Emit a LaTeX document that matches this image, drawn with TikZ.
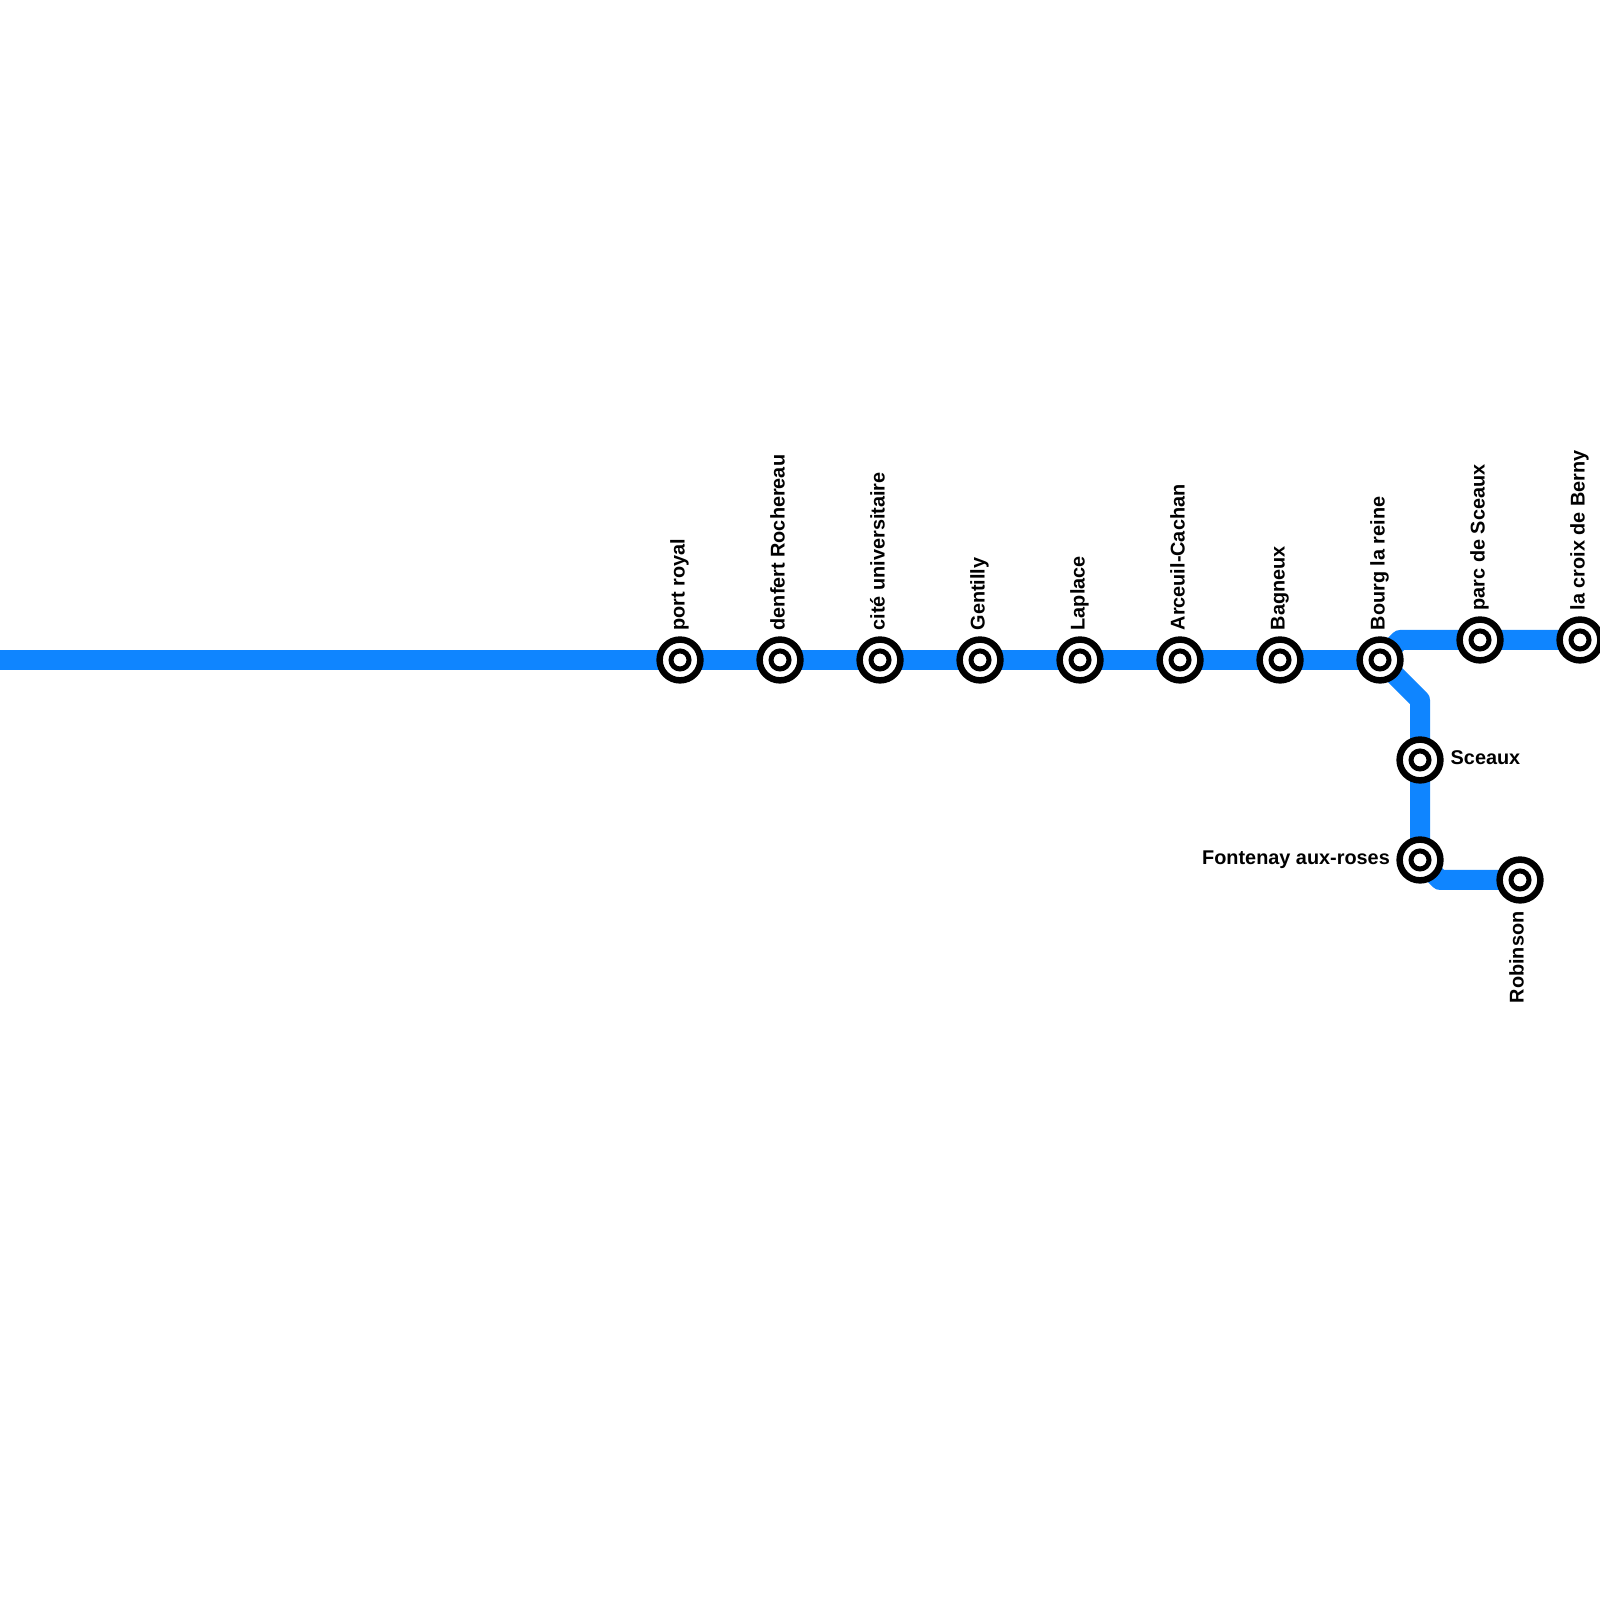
\documentclass[tikz,border=0pt]{standalone}
\usepackage{fontspec}
\setmainfont{Liberation Sans}
\usetikzlibrary{backgrounds}
\definecolor{lineblue}{RGB}{15,133,255}
\tikzset{
	station/.style={circle, draw=black, fill=white, line width=0.065cm, minimum size=0.408cm, inner sep=0pt,
		path picture={\draw[black, line width=0.05cm] (path picture bounding box.center) circle (0.09);}},
	stationname/.style={font=\bfseries\fontsize{5.65}{7}\selectfont, inner sep=0pt, text height=0.15cm, text depth=0.06cm},
	upname/.style={stationname, rotate=90, anchor=west},
	metroline/.style={lineblue, line width=0.2cm, line join=round}
}
\begin{document}
\begin{tikzpicture}[scale=1]
	\useasboundingbox (0, 0) rectangle (16, 16);

	\node[station] (portroyal) at (6.8, 9.4){};
	\node[station] (denfert) at (7.8, 9.4){};
	\node[station] (cite) at (8.8, 9.4){};
	\node[station] (gentilly) at (9.8, 9.4){};
	\node[station] (laplace) at (10.8, 9.4){};
	\node[station] (arceuil) at (11.8, 9.4){};
	\node[station] (bagneux) at (12.8, 9.4){};
	\node[station] (bourg) at (13.8, 9.4){};
	\node[station] (parc) at (14.8, 9.6){};
	\node[station] (croix) at (15.8, 9.6){};
	\node[station] (sceaux) at (14.2, 8.4){};
	\node[station] (fontenay) at (14.2, 7.4){};
	\node[station] (robinson) at (15.2, 7.2){};

	\coordinate (west) at (0, 9.4);
	\coordinate (northbend) at (14, 9.6);
	\coordinate (southbend) at (14.2, 9);
	\coordinate (lastbend) at (14.4, 7.2);

	\begin{scope}[on background layer]
		\draw[metroline] (west)--(bourg.center);
		\draw[metroline] (bourg.center)--(northbend)--(croix.center);
		\draw[metroline] (bourg.center)--(southbend)--(fontenay.center)--(lastbend)--(robinson.center);
	\end{scope}

	\node[upname] (portroyalname) at (6.8, 9.69){port royal};
	\node[upname] (denfertname) at (7.8, 9.69){denfert Rochereau};
	\node[upname] (citename) at (8.8, 9.69){cité universitaire};
	\node[upname] (gentillyname) at (9.8, 9.69){Gentilly};
	\node[upname] (laplacename) at (10.8, 9.69){Laplace};
	\node[upname] (arceuilname) at (11.8, 9.69){Arceuil-Cachan};
	\node[upname] (bagneuxname) at (12.8, 9.69){Bagneux};
	\node[upname] (bourgname) at (13.8, 9.69){Bourg la reine};
	\node[upname] (parcname) at (14.8, 9.89){parc de Sceaux};
	\node[upname] (croixname) at (15.8, 9.89){la croix de Berny};

	\node[stationname, anchor=west] (sceauxname) at (14.5, 8.398){Sceaux};
	\node[stationname, anchor=east] (fontenayname) at (13.905, 7.4){Fontenay aux-roses};
	\node[stationname, rotate=90, anchor=east] (robinsonname) at (15.19, 6.89){Robinson};
\end{tikzpicture}
\end{document}
